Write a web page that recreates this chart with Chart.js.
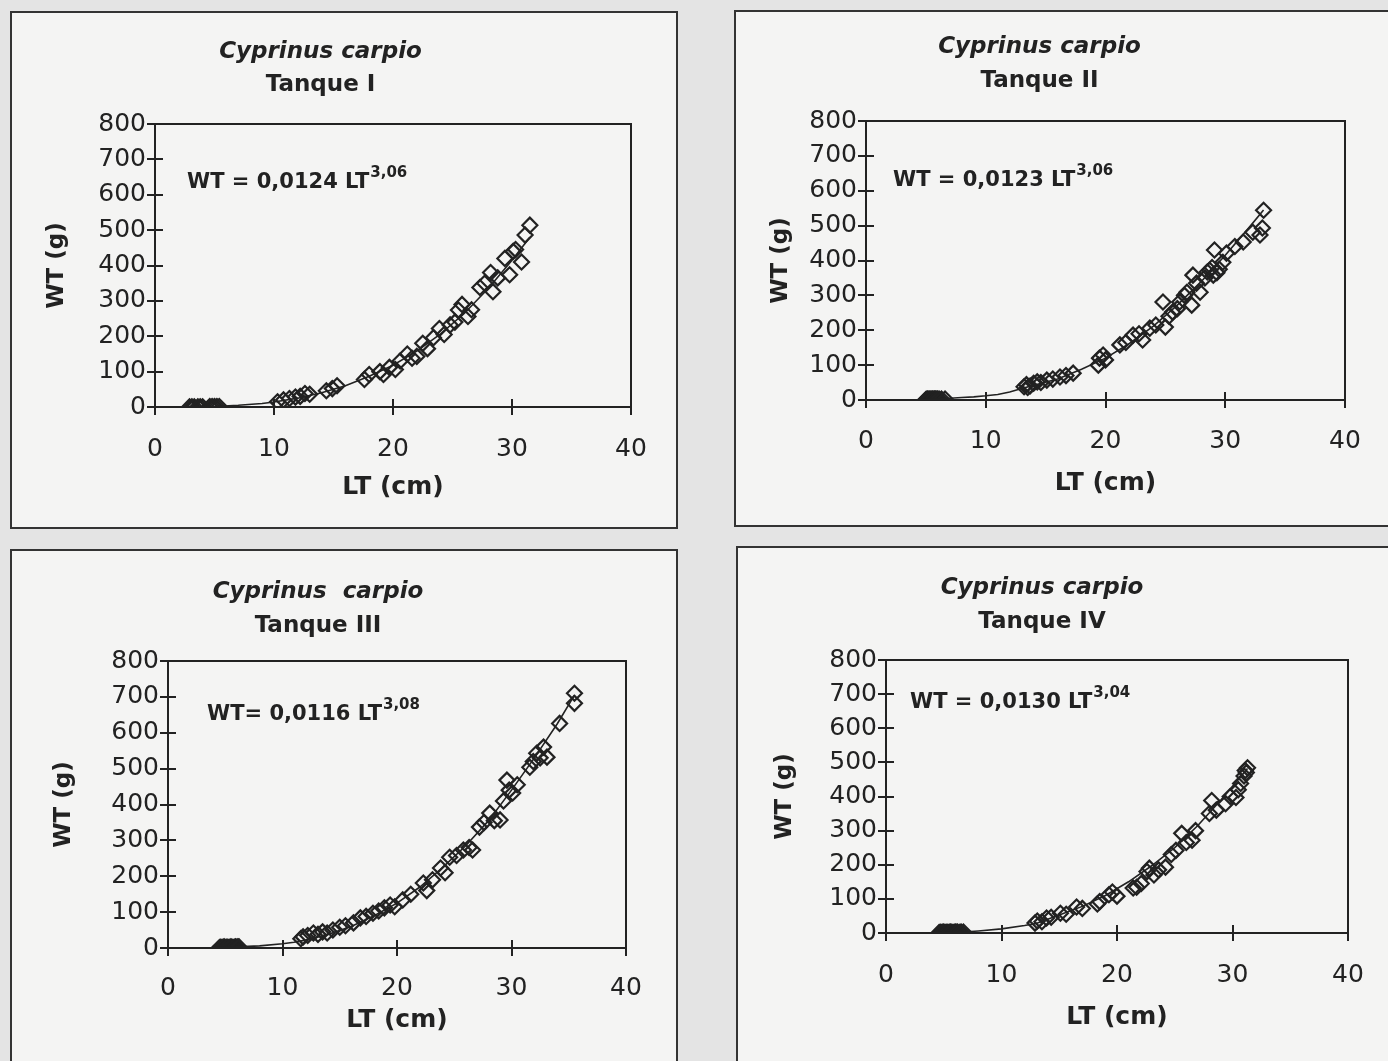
<!DOCTYPE html>
<html>
<head>
<meta charset="utf-8">
<script src="https://cdn.jsdelivr.net/npm/chart.js@4.4.1/dist/chart.umd.min.js"></script>
<style>
  html, body { margin: 0; padding: 0; background: #e4e4e4; overflow: hidden; }
  body { width: 1388px; height: 1061px; position: relative; }
  canvas { position: absolute; }
</style>
</head>
<body>
<canvas id="c1"></canvas>
<canvas id="c2"></canvas>
<canvas id="c3"></canvas>
<canvas id="c4"></canvas>
<script>
// texts
const species = ['Cyprinus carpio', 'Cyprinus carpio', 'Cyprinus  carpio', 'Cyprinus carpio'];
const tanks = ['Tanque I', 'Tanque II', 'Tanque III', 'Tanque IV'];
const eqLeft = ['WT = 0,0124 LT', 'WT = 0,0123 LT', 'WT= 0,0116 LT', 'WT = 0,0130 LT'];
const eqExp = ['3,06', '3,06', '3,08', '3,04'];
const xTicks = [0, 10, 20, 30, 40];
const yTicks = [0, 100, 200, 300, 400, 500, 600, 700, 800];

// Tanque I
const lt1 = [2.9, 3.1, 3.3, 3.6, 3.8, 4.0, 4.6, 4.8, 5.0, 5.2, 5.4,
  10.3, 10.8, 11.3, 11.8, 12.2, 12.6, 13.0, 14.4, 14.9, 15.3, 17.6, 18.0, 18.9, 19.2, 19.7,
  20.2, 20.6, 21.2, 21.6, 22.0, 22.5, 22.9, 23.4, 23.9, 24.3, 24.8, 25.2, 25.5, 25.8, 26.3,
  26.6, 27.3, 27.7, 28.2, 28.4, 28.8, 29.4, 29.8, 30.1, 30.3, 30.8, 31.1, 31.5];
const wt1 = [0.2, 0.3, 0.4, 0.5, 0.6, 0.7, 1.0, 1.1, 1.3, 1.5, 1.6,
  15, 20, 24, 28, 30, 38, 36, 46, 52, 60, 78, 92, 100, 92, 112,
  106, 130, 150, 138, 143, 180, 165, 196, 222, 205, 232, 240, 274, 290, 256,
  275, 338, 350, 380, 326, 365, 420, 374, 440, 445, 410, 486, 514];
const cLt1 = [3, 5, 7, 9, 10, 12, 14, 16, 18, 20, 22, 24, 26, 28, 30, 31.5];
const cWt1 = [0.5, 1.5, 5, 10, 14, 25, 40, 60, 87, 118, 158, 207, 265, 335, 415, 480];

// Tanque II
const lt2 = [5.0, 5.05, 5.1, 5.15, 5.2, 5.25, 5.3, 5.35, 5.4, 5.45, 5.5, 5.55, 5.6, 5.65, 5.7,
  5.75, 5.8, 5.85, 5.9, 5.95, 6.0, 6.1, 6.3, 6.6,
  13.2, 13.4, 13.5, 13.7, 14.0, 14.3, 14.6, 15.1, 15.6, 16.2, 16.7, 17.3, 19.4, 19.5, 19.8, 20.0,
  21.2, 21.7, 22.3, 22.8, 23.1, 23.7, 24.2, 24.8, 25.0, 25.3, 25.6, 26.0, 26.2, 26.6, 26.8,
  27.2, 27.3, 27.6, 27.9, 28.3, 28.5, 28.7, 28.9, 29.0, 29.1, 29.3, 29.5, 29.8, 30.1, 30.8,
  31.5, 32.3, 32.9, 33.1, 33.2];
const wt2 = [1, 2, 1, 3, 2, 1, 2, 3, 1, 2, 2, 3, 1, 2, 3,
  2, 3, 1, 2, 3, 2, 3, 3, 3,
  38, 44, 36, 40, 48, 52, 50, 57, 60, 66, 70, 77, 100, 120, 129, 115,
  158, 165, 186, 190, 172, 206, 215, 281, 209, 240, 252, 262, 281, 300, 309,
  272, 358, 335, 309, 350, 367, 372, 380, 358, 430, 365, 375, 395, 421, 440,
  453, 481, 473, 493, 544];
const cLt2 = [5, 6, 7, 8, 9, 10, 11, 12, 13, 14, 16, 18, 20, 22, 24, 26, 28, 30, 32, 33.2];
const cWt2 = [1.5, 3, 5, 7, 9, 12, 16, 23, 33, 42, 60, 88, 120, 162, 212, 272, 340, 415, 495, 545];

// Tanque III
const lt3 = [4.5, 4.6, 4.7, 4.8, 4.9, 5.0, 5.1, 5.2, 5.3, 5.4, 5.5, 5.6, 5.7, 5.8, 5.9, 6.0, 6.1, 6.2,
  11.6, 11.8, 12.2, 12.7, 13.1, 13.5, 13.9, 14.4, 15.0, 15.5, 16.2, 16.8, 17.3, 17.9, 18.4,
  18.9, 19.4, 19.8, 20.5, 21.2, 22.3, 22.6, 23.1, 23.8, 24.2, 24.6, 25.2, 25.8, 26.3, 26.6,
  27.2, 27.6, 28.1, 28.5, 29.0, 29.3, 29.6, 29.8, 30.1, 30.5, 31.6, 31.9, 32.2, 32.5, 32.8,
  33.1, 34.2, 35.5, 35.5];
const wt3 = [1, 2, 1, 2, 3, 1, 2, 2, 1, 2, 3, 2, 1, 2, 3, 2, 3, 3,
  26, 31, 35, 42, 38, 45, 42, 50, 58, 62, 70, 84, 88, 97, 103,
  112, 120, 115, 134, 150, 181, 160, 190, 223, 210, 253, 258, 273, 280, 273,
  337, 350, 376, 355, 357, 410, 468, 440, 432, 455, 504, 520, 543, 530, 560,
  532, 626, 710, 682];
const cLt3 = [4.5, 6, 8, 10, 11, 12, 14, 16, 18, 20, 22, 24, 26, 28, 30, 32, 34, 35.5];
const cWt3 = [1, 3, 6, 12, 16, 22, 38, 60, 90, 125, 170, 225, 285, 355, 440, 530, 625, 705];

// Tanque IV
const lt4 = [4.6, 4.7, 4.8, 4.9, 5.0, 5.1, 5.2, 5.3, 5.4, 5.5, 5.6, 5.7, 5.8, 5.9, 6.0, 6.1, 6.2, 6.4, 6.5, 6.7,
  12.9, 13.1, 13.5, 13.9, 14.3, 15.1, 15.6, 16.5, 17.0, 18.3, 18.5, 19.3, 19.6, 20.0,
  21.4, 21.7, 22.1, 22.6, 22.8, 23.2, 23.6, 24.2, 24.7, 25.1, 25.6, 26.0, 26.5, 26.8,
  28.0, 28.2, 28.6, 29.4, 29.8, 30.3, 30.5, 30.7, 31.0, 31.1, 31.3, 31.2];
const wt4 = [1, 2, 1, 2, 3, 1, 2, 2, 1, 2, 3, 2, 1, 2, 3, 2, 3, 2, 3, 3,
  29, 35, 33, 44, 46, 58, 55, 76, 72, 85, 92, 112, 120, 108,
  132, 134, 145, 180, 190, 170, 185, 193, 230, 242, 292, 265, 272, 300,
  350, 388, 360, 379, 400, 397, 420, 438, 460, 476, 484, 470];
const cLt4 = [4.6, 6.7, 8, 10, 12, 13, 15, 17, 19, 21, 23, 25, 27, 29, 31, 31.3];
const cWt4 = [1, 3, 6, 12, 22, 28, 53, 78, 110, 150, 197, 250, 315, 390, 470, 482];

const series = [[lt1, wt1, cLt1, cWt1], [lt2, wt2, cLt2, cWt2], [lt3, wt3, cLt3, cWt3], [lt4, wt4, cLt4, cWt4]];

// page geometry of each panel (box, plot area, text rows)
const panels = [
  {id: 'c1', x: 10, y: 11, w: 668, h: 518, l: 155, t: 124, r: 631, b: 407, t1: 52, t2: 85, yt: 57, xl: 445, xt: 487, ex: 32, ey: 59},
  {id: 'c2', x: 734, y: 10, w: 670, h: 517, l: 866, t: 121, r: 1345, b: 400, t1: 47, t2: 81, yt: 781, xl: 437, xt: 483, ex: 27, ey: 60},
  {id: 'c3', x: 10, y: 549, w: 668, h: 530, l: 168, t: 661, r: 626, b: 948, t1: 592, t2: 626, yt: 64, xl: 984, xt: 1020, ex: 39, ey: 54},
  {id: 'c4', x: 736, y: 546, w: 670, h: 530, l: 886, t: 660, r: 1348, b: 933, t1: 588, t2: 622, yt: 785, xl: 971, xt: 1017, ex: 24, ey: 43}
];

const ink = '#222';
const FONT = "'DejaVu Sans', 'Liberation Sans', Arial, sans-serif";
const toPts = (xs, ys) => xs.map((x, i) => ({x: x, y: ys[i]}));

// frame of the panel, plot box, inner halves of tick marks, equation
const frame = {
  id: 'frame',
  beforeDraw(chart) {
    const c = chart.ctx;
    c.save();
    c.fillStyle = '#f4f4f3';
    c.fillRect(0, 0, chart.width, chart.height);
    c.strokeStyle = '#333';
    c.lineWidth = 2;
    c.strokeRect(1, 1, chart.width - 2, chart.height - 2);
    c.restore();
  },
  afterDraw(chart, args, opts) {
    const c = chart.ctx;
    const a = chart.chartArea;
    const xs = chart.scales.x, ys = chart.scales.y;
    c.save();
    c.strokeStyle = ink;
    c.lineWidth = 2;
    c.strokeRect(a.left, a.top, a.right - a.left, a.bottom - a.top);
    c.beginPath();
    yTicks.forEach(v => {
      const py = Math.round(ys.getPixelForValue(v));
      c.moveTo(a.left, py); c.lineTo(a.left + 8, py);
    });
    xTicks.forEach(v => {
      const px = Math.round(xs.getPixelForValue(v));
      c.moveTo(px, a.bottom); c.lineTo(px, a.bottom - 8);
    });
    c.stroke();
    // equation
    c.fillStyle = ink;
    c.textBaseline = 'middle';
    c.font = 'bold 21px ' + FONT;
    const ex = a.left + opts.ex, ey = a.top + opts.ey;
    c.fillText(opts.text, ex, ey);
    const w = c.measureText(opts.text).width;
    c.font = 'bold 15px ' + FONT;
    c.fillText(opts.exp, ex + w + 1, ey - 10);
    c.restore();
  }
};

panels.forEach((p, i) => {
  const cv = document.getElementById(p.id);
  cv.width = p.w; cv.height = p.h;
  cv.style.left = p.x + 'px';
  cv.style.top = p.y + 'px';

  const titleSize = 23;
  const lh = titleSize * 1.2;
  const t1 = p.t1 - p.y, t2 = p.t2 - p.y, top = p.t - p.y;
  const yW = p.l - p.x;
  const xTitleLh = 25 * 1.2;
  const scaleBottom = p.xt - p.y + xTitleLh / 2;
  const xH = scaleBottom - (p.b - p.y);
  const [lt, wt, clt, cwt] = series[i];

  new Chart(cv, {
    type: 'scatter',
    data: {
      datasets: [
        {
          data: toPts(clt, cwt),
          showLine: true,
          borderColor: ink,
          borderWidth: 1.6,
          pointRadius: 0,
          tension: 0
        },
        {
          data: toPts(lt, wt),
          pointStyle: 'rectRot',
          pointRadius: 7.5,
          borderColor: ink,
          borderWidth: 2.2,
          backgroundColor: 'rgba(0,0,0,0)'
        }
      ]
    },
    options: {
      responsive: false,
      animation: false,
      devicePixelRatio: 1,
      layout: {padding: {left: 0, top: 0, right: p.x + p.w - p.r, bottom: p.h - scaleBottom}},
      plugins: {
        legend: {display: false},
        tooltip: {enabled: false},
        title: {
          display: true,
          text: species[i],
          color: ink,
          font: {family: FONT, size: titleSize, weight: 'bold', style: 'italic'},
          padding: {top: t1 - lh / 2, bottom: 0}
        },
        subtitle: {
          display: true,
          text: tanks[i],
          color: ink,
          font: {family: FONT, size: titleSize, weight: 'bold'},
          padding: {top: (t2 - t1) - lh, bottom: top - t2 - lh / 2}
        },
        frame: {text: eqLeft[i], exp: eqExp[i], ex: p.ex, ey: p.ey}
      },
      events: [],
      scales: {
        x: {
          type: 'linear',
          min: 0, max: 40,
          afterFit: s => { s.height = xH; },
          afterBuildTicks: s => { s.ticks = xTicks.map(v => ({value: v})); },
          ticks: {color: ink, font: {family: FONT, size: 25}, padding: p.xl - p.b - 19, maxRotation: 0},
          grid: {display: true, drawOnChartArea: false, drawTicks: true, tickLength: 8, color: ink, lineWidth: 2},
          border: {display: true, color: ink, width: 2},
          title: {display: true, text: 'LT (cm)', color: ink, font: {family: FONT, size: 25, weight: 'bold'}, padding: {top: 0, bottom: 0}}
        },
        y: {
          type: 'linear',
          min: 0, max: 800,
          afterFit: s => { s.width = yW; },
          afterBuildTicks: s => { s.ticks = yTicks.map(v => ({value: v})); },
          ticks: {color: ink, font: {family: FONT, size: 25}, padding: 1},
          grid: {display: true, drawOnChartArea: false, drawTicks: true, tickLength: 8, color: ink, lineWidth: 2},
          border: {display: true, color: ink, width: 2},
          title: {display: true, text: 'WT (g)', color: ink, font: {family: FONT, size: 23, weight: 'bold'}, padding: {top: p.yt - p.x - 23 * 1.2 / 2, bottom: 0}}
        }
      }
    },
    plugins: [frame]
  });
});
</script>
</body>
</html>
